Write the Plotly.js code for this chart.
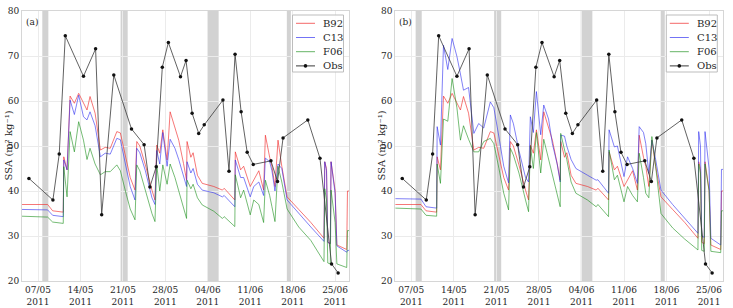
<!DOCTYPE html>
<html>
<head>
<meta charset="utf-8">
<script src="https://cdn.plot.ly/plotly-3.0.1.min.js"></script>
<style>
  html, body { margin: 0; padding: 0; background: #fff; }
  #chart { width: 733px; height: 308px; }
</style>
</head>
<body>
<div id="chart"></div>
<script>
// Modelled surface SSA (three parameterisations) and observations, May-June 2011.
// All model series share one time axis.
const modelTimes = [
  '2011-05-04 08:00', '2011-05-08 14:00', '2011-05-09 10:00', '2011-05-11 04:00', '2011-05-11 06:00',
  '2011-05-11 19:00', '2011-05-12 07:00', '2011-05-13 00:00', '2011-05-13 17:00', '2011-05-14 12:00',
  '2011-05-15 02:00', '2011-05-15 14:00', '2011-05-16 10:00', '2011-05-17 07:00', '2011-05-18 02:00',
  '2011-05-18 22:00', '2011-05-20 00:00', '2011-05-20 14:00', '2011-05-21 10:00', '2011-05-22 05:00',
  '2011-05-23 00:00', '2011-05-23 07:00', '2011-05-23 19:00', '2011-05-24 17:00', '2011-05-25 19:00',
  '2011-05-26 07:00', '2011-05-26 14:00', '2011-05-27 02:00', '2011-05-27 14:00', '2011-05-28 07:00',
  '2011-05-28 19:00', '2011-05-29 14:00', '2011-05-30 05:00', '2011-05-31 00:00', '2011-05-31 12:00',
  '2011-05-31 14:00', '2011-06-01 05:00', '2011-06-01 14:00', '2011-06-02 07:00', '2011-06-03 02:00',
  '2011-06-05 00:00', '2011-06-06 10:00', '2011-06-06 17:00', '2011-06-08 11:00', '2011-06-08 13:00',
  '2011-06-09 10:00', '2011-06-09 22:00', '2011-06-11 00:00', '2011-06-11 14:00', '2011-06-12 10:00',
  '2011-06-13 05:00', '2011-06-13 12:00', '2011-06-14 05:00', '2011-06-14 14:00', '2011-06-15 02:00',
  '2011-06-15 14:00', '2011-06-16 05:00', '2011-06-17 02:00', '2011-06-19 00:00', '2011-06-21 00:00',
  '2011-06-23 04:00', '2011-06-23 07:00', '2011-06-23 14:00', '2011-06-23 19:00', '2011-06-24 05:00',
  '2011-06-24 08:00', '2011-06-25 00:00', '2011-06-25 07:00', '2011-06-26 22:00', '2011-06-27 01:00',
  '2011-06-27 08:00'
];

// B92 is the same in both runs
const b92 = [
  37.0, 37.0, 35.6, 35.3, 47.6, 44.7, 61.1, 59.5, 61.7, 59.5,
  58.0, 61.0, 57.3, 49.1, 49.7, 49.5, 53.2, 52.9, 47.6, 43.0,
  40.2, 51.0, 50.0, 45.8, 40.2, 38.0, 50.2, 48.4, 53.6, 46.9,
  57.6, 54.3, 51.3, 46.1, 42.4, 51.0, 47.5, 48.5, 43.5, 41.7,
  41.0, 40.2, 40.6, 38.0, 48.7, 44.7, 45.5, 41.0, 42.5, 44.5,
  40.2, 52.4, 47.5, 45.5, 41.0, 51.3, 45.5, 38.7, 35.9, 33.0,
  29.5, 46.5, 45.0, 28.6, 28.3, 46.5, 40.2, 28.0, 27.0, 40.0,
  40.0
];

// run (a)
const c13a = [
  35.9, 35.8, 34.6, 34.3, 46.9, 44.7, 60.2, 57.0, 61.3, 56.5,
  55.8, 57.6, 54.5, 47.6, 48.4, 48.2, 51.7, 51.4, 46.0, 41.0,
  38.0, 49.5, 48.5, 44.5, 38.5, 37.0, 49.0, 46.0, 53.0, 45.5,
  51.5, 49.5, 47.0, 43.0, 41.0, 46.5, 44.0, 45.0, 41.5, 40.2,
  39.6, 38.7, 39.0, 36.5, 46.9, 43.0, 43.0, 38.7, 41.0, 42.0,
  39.0, 47.3, 46.5, 44.5, 40.0, 46.0, 45.0, 38.0, 35.0, 32.0,
  28.8, 46.5, 44.5, 28.6, 28.3, 46.5, 39.5, 27.8, 26.4, 26.8,
  26.8
];
const f06a = [
  34.4, 34.2, 33.1, 32.8, 45.4, 38.7, 53.2, 48.7, 55.4, 51.3,
  47.0, 49.5, 46.0, 43.6, 44.3, 44.3, 45.8, 44.5, 40.0, 36.0,
  33.6, 45.8, 44.5, 40.0, 35.0, 33.2, 45.8, 40.0, 45.8, 41.5,
  46.0, 43.0, 40.2, 36.5, 33.9, 42.4, 40.5, 41.5, 38.5, 36.9,
  35.5, 33.9, 34.3, 32.1, 43.6, 38.5, 40.2, 34.7, 38.0, 37.0,
  33.0, 42.4, 39.0, 36.5, 33.2, 45.5, 42.0, 36.0, 32.0, 29.0,
  24.3, 40.5, 38.0, 24.0, 23.8, 40.2, 33.0, 23.8, 23.0, 31.2,
  31.2
];

// run (b)
const c13b = [
  38.3, 38.2, 36.5, 36.2, 54.3, 50.2, 72.4, 67.0, 73.9, 69.9,
  66.0, 62.4, 63.0, 52.8, 55.0, 54.0, 59.8, 58.5, 52.0, 45.5,
  41.8, 56.9, 55.0, 49.0, 43.0, 42.0, 56.5, 53.0, 62.1, 52.5,
  59.1, 56.0, 50.5, 46.0, 42.0, 52.4, 52.2, 50.0, 47.0, 45.0,
  43.5, 42.4, 42.5, 39.5, 53.6, 49.8, 50.0, 43.2, 47.6, 45.0,
  41.7, 54.3, 53.0, 50.5, 43.9, 51.3, 47.0, 40.2, 37.0, 34.0,
  30.6, 53.2, 50.0, 30.0, 29.7, 53.2, 45.0, 29.5, 28.0, 44.8,
  44.8
];
const f06b = [
  36.2, 36.0, 34.6, 34.4, 46.0, 41.7, 56.0, 55.5, 65.0, 58.5,
  51.3, 54.5, 51.5, 48.7, 48.7, 51.0, 51.7, 50.5, 45.0, 39.5,
  35.8, 49.5, 48.0, 44.0, 38.0, 35.4, 50.0, 45.0, 53.0, 44.0,
  51.5, 47.0, 44.0, 39.0, 36.5, 52.8, 49.5, 47.0, 42.0, 39.5,
  38.0, 36.5, 37.0, 34.3, 49.1, 42.5, 43.5, 37.6, 41.0, 39.0,
  37.6, 48.4, 43.0, 39.5, 38.5, 52.1, 45.5, 35.0, 31.8, 29.3,
  26.9, 46.0, 44.0, 26.8, 26.6, 46.0, 40.0, 26.6, 26.3, 35.6,
  35.6
];

// field observations
const obsTimes = [
  '2011-05-05 12:00', '2011-05-09 11:00', '2011-05-10 12:00', '2011-05-11 12:00', '2011-05-14 12:00',
  '2011-05-16 12:00', '2011-05-17 12:00', '2011-05-19 12:00', '2011-05-22 10:00', '2011-05-24 12:00',
  '2011-05-25 11:00', '2011-05-26 12:00', '2011-05-27 12:00', '2011-05-28 12:00', '2011-05-30 12:00',
  '2011-05-31 10:00', '2011-06-01 10:00', '2011-06-02 12:00', '2011-06-03 10:00', '2011-06-06 12:00',
  '2011-06-07 12:00', '2011-06-08 12:00', '2011-06-09 12:00', '2011-06-10 12:00', '2011-06-11 12:00',
  '2011-06-14 10:00', '2011-06-15 12:00', '2011-06-16 10:00', '2011-06-20 12:00', '2011-06-22 12:00',
  '2011-06-24 10:00', '2011-06-25 12:00'
];
const obsSSA = [
  42.8, 38.0, 48.2, 74.5, 65.5, 71.6, 34.7, 65.8, 53.8, 50.3,
  40.9, 45.4, 67.5, 73.0, 65.4, 69.0, 57.3, 52.8, 54.7, 60.2,
  44.4, 70.4, 57.6, 48.6, 45.9, 46.7, 42.1, 51.8, 55.8, 47.3,
  23.8, 21.8
];

// snowfall periods (shaded)
const bandStart = ['2011-05-07 17:00', '2011-05-20 15:00', '2011-06-03 21:00', '2011-06-17 01:00'];
const bandEnd   = ['2011-05-08 17:00', '2011-05-21 19:00', '2011-06-05 19:00', '2011-06-17 17:00'];

const tickDates = ['2011-05-07', '2011-05-14', '2011-05-21', '2011-05-28',
                   '2011-06-04', '2011-06-11', '2011-06-18', '2011-06-25'];
const tickLabels = ['07/05<br>2011', '14/05<br>2011', '21/05<br>2011', '28/05<br>2011',
                    '04/06<br>2011', '11/06<br>2011', '18/06<br>2011', '25/06<br>2011'];

const seriesNames = ['B92', 'C13', 'F06', 'Obs'];
const seriesColors = ['rgba(240,40,40,0.7)', 'rgba(40,40,240,0.65)', 'rgba(20,140,20,0.65)', '#3a3a3a'];
const yTitle = 'SSA (m² kg⁻¹)';

// ---- page geometry ----
const W = 733, H = 308;
const M = { l: 22, r: 10, t: 11, b: 27 };
const PW = W - M.l - M.r, PH = H - M.t - M.b;
const px = v => (v - M.l) / PW;          // pixel x -> paper x
const py = v => (H - M.b - v) / PH;      // pixel y -> paper y

const FONT = 'DejaVu Serif, Liberation Serif, serif';
const TXT = '#262626';

function modelTrace(y, k, xa, ya) {
  return {
    x: modelTimes, y: y, type: 'scatter', mode: 'lines', name: seriesNames[k],
    xaxis: xa, yaxis: ya, showlegend: false,
    line: { color: seriesColors[k], width: 0.9 }
  };
}
function obsTrace(xa, ya) {
  return {
    x: obsTimes, y: obsSSA, type: 'scatter', mode: 'lines+markers', name: 'Obs',
    xaxis: xa, yaxis: ya, showlegend: false,
    line: { color: seriesColors[3], width: 0.8 },
    marker: { color: '#111', size: 3.5 }
  };
}

const traces = [
  modelTrace(b92, 0, 'x', 'y'), modelTrace(c13a, 1, 'x', 'y'), modelTrace(f06a, 2, 'x', 'y'), obsTrace('x', 'y'),
  modelTrace(b92, 0, 'x2', 'y2'), modelTrace(c13b, 1, 'x2', 'y2'), modelTrace(f06b, 2, 'x2', 'y2'), obsTrace('x2', 'y2')
];

const xRange = ['2011-05-04 08:40', '2011-06-27 07:00'];
function xAxis(domain) {
  return {
    domain: domain, type: 'date', range: xRange,
    tickmode: 'array', tickvals: tickDates, ticktext: tickLabels,
    ticks: '', tickfont: { family: FONT, size: 9, color: TXT },
    showgrid: true, gridcolor: '#ebebeb', gridwidth: 1,
    showline: true, linecolor: '#d6d6d6', linewidth: 1, mirror: true,
    zeroline: false, fixedrange: true
  };
}
function yAxis(anchor) {
  return {
    anchor: anchor, domain: [0, 1], range: [20, 80],
    tickmode: 'array', tickvals: [20, 30, 40, 50, 60, 70, 80],
    ticks: '', tickfont: { family: FONT, size: 9, color: TXT },
    showgrid: true, gridcolor: '#ebebeb', gridwidth: 1,
    showline: true, linecolor: '#d6d6d6', linewidth: 1, mirror: true,
    zeroline: false, fixedrange: true
  };
}

const shapes = [];
const annotations = [];

// shaded periods in both panels
[['x', 'y'], ['x2', 'y2']].forEach(([xa, ya]) => {
  bandStart.forEach((s, i) => {
    shapes.push({
      type: 'rect', layer: 'below', xref: xa, yref: ya + ' domain',
      x0: s, x1: bandEnd[i], y0: 0, y1: 1,
      fillcolor: '#d2d2d2', line: { width: 0 }
    });
  });
});

// legend box + panel label + y title for each panel
function panelDecor(left, boxLeft, tag, titleX) {
  const boxRight = boxLeft + 51, boxTop = 15, boxBottom = 72;
  shapes.push({
    type: 'rect', layer: 'above', xref: 'paper', yref: 'paper',
    x0: px(boxLeft), x1: px(boxRight), y0: py(boxBottom), y1: py(boxTop),
    fillcolor: 'rgba(255,255,255,0.9)', line: { color: '#bdbdbd', width: 1 }
  });
  const rows = [23.3, 37.5, 51.7, 65.9];
  rows.forEach((ry, k) => {
    shapes.push({
      type: 'line', layer: 'above', xref: 'paper', yref: 'paper',
      x0: px(boxLeft + 3.5), x1: px(boxLeft + 22.5), y0: py(ry), y1: py(ry),
      line: { color: seriesColors[k], width: 1 }
    });
    if (k === 3) {
      shapes.push({
        type: 'circle', layer: 'above', xref: 'paper', yref: 'paper',
        x0: px(boxLeft + 11.2), x1: px(boxLeft + 14.8), y0: py(ry + 1.8), y1: py(ry - 1.8),
        fillcolor: '#111', line: { width: 0 }
      });
    }
    annotations.push({
      xref: 'paper', yref: 'paper', x: px(boxLeft + 28.5), y: py(ry),
      xanchor: 'left', yanchor: 'middle', showarrow: false,
      text: seriesNames[k], font: { family: FONT, size: 10, color: TXT }
    });
  });
  annotations.push({
    xref: 'paper', yref: 'paper', x: px(left + 2), y: py(22),
    xanchor: 'left', yanchor: 'middle', showarrow: false,
    text: tag, font: { family: FONT, size: 9, color: TXT }
  });
  annotations.push({
    xref: 'paper', yref: 'paper', x: px(titleX), y: 0.5,
    xanchor: 'center', yanchor: 'middle', textangle: -90, showarrow: false,
    text: yTitle, font: { family: FONT, size: 10, color: TXT }
  });
}
panelDecor(22, 292.5, '(a)', 7.5);
panelDecor(395.3, 666.3, '(b)', 380.5);

const layout = {
  width: W, height: H, margin: M,
  paper_bgcolor: '#fff', plot_bgcolor: '#fff',
  showlegend: false,
  xaxis: xAxis([0, px(349)]),
  yaxis: yAxis('x'),
  xaxis2: xAxis([px(395.3), px(723)]),
  yaxis2: yAxis('x2'),
  shapes: shapes,
  annotations: annotations,
  font: { family: FONT, color: TXT }
};

Plotly.newPlot('chart', traces, layout, { staticPlot: true, displayModeBar: false });
</script>
</body>
</html>
